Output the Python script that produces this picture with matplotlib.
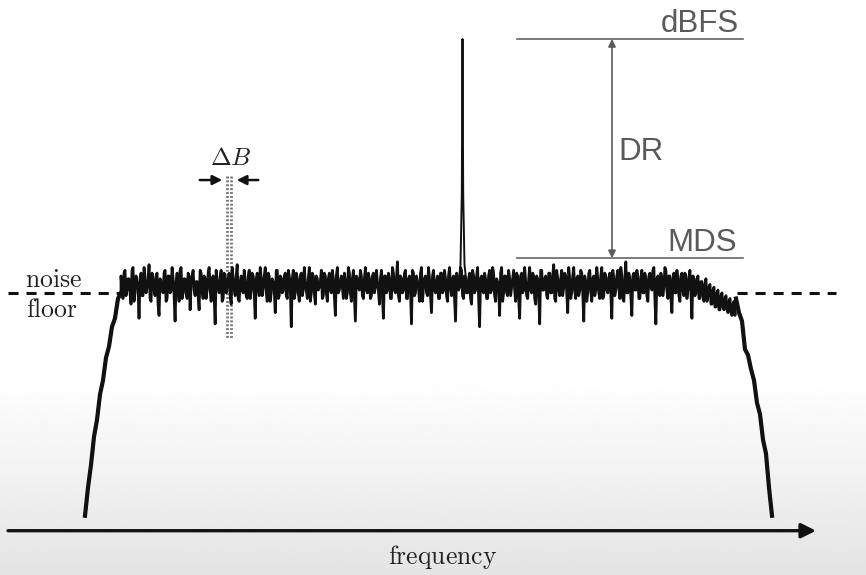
import numpy as np
import matplotlib.pyplot as plt

plt.rcParams['mathtext.fontset'] = 'cm'

# levels in dB (0 = full scale), frequency in bins
floor_db = -90
mds_db = -77.7
dbfs_db = 0

# left and right filter roll-off
left_x = [85, 88, 91, 94, 97, 100, 103, 106, 109, 112, 115, 118, 121]
left_db = [-169, -159, -151, -141, -135, -126, -121, -113, -109, -102, -99, -92, -90]
right_x = [736, 739, 742, 745, 748, 751, 754, 757, 760, 763, 766, 769, 772]
right_db = [-92, -97, -100, -110, -112, -117, -121, -129, -133, -142, -147, -159, -169]

# noise in the pass band, dB above the noise floor (even bins)
noise_dev = [
    6, -2, 8, 1, 5, -4, 9, 0, 4, -9, 7, -1, 6, 2, 10, -3, 5, -1, 7, -8,
    4, 0, 8, -2, 6, 1, 5, -10, 7, -3, 9, 0, 5, -2, 6, 3, 8, -1, 4, -6,
    7, -2, 5, 1, 9, -3, 6, -11, 4, 0, 8, -2, 6, 2, 7, -4, 5, -1, 10, -3,
    6, 0, 4, -2, 8, 1, 6, -9, 7, -1, 5, 2, 9, -3, 6, 0, 4, -7, 8, -1,
    5, 1, 7, -2, 6, -12, 8, 0, 5, -3, 7, 1, 4, -2, 9, 0, 6, -4, 5, 2,
    8, -1, 6, -3, 7, 0, 5, -8, 9, 1, 6, -2, 4, 0, 7, -3, 8, -10, 5, 1,
    6, -2, 9, 0, 5, -1, 7, 2, 4, -4, 8, -9, 6, 1, 5, -2, 7, 0, 11, -3,
    5, 1, 8, -2, 6, -11, 7, 0, 4, -3, 9, 2, 6, -1, 5, -7, 8, 0, 6, -2,
    7, 1, 5, -3, 9, -1, 6, -10, 4, 2, 8, -2, 5, 0, 7, -4, 6, 1, 9, -12,
    6, 0, 5, -2, 8, 1, 7, -3, 4, -8, 9, 0, 6, -1, 5, 2, 8, -3, 6, -9,
    7, 1, 4, -2, 9, 0, 6, -4, 5, -11, 8, 1, 6, -2, 7, 0, 10, -3, 5, -1,
    8, 2, 6, -7, 5, 0, 9, -2, 6, 1, 7, -10, 4, 0, 8, -3, 6, 1, 5, -2,
    9, -1, 6, 0, 7, -9, 5, 1, 8, -2, 6, -3, 11, 0, 5, -8, 7, 1, 6, -2,
    8, 0, 5, -3, 7, 1, 9, -11, 6, -1, 5, 2, 8, -2, 6, -7, 7, 0, 5, -3,
    7, -1, 6, 1, 8, -9, 5, 0, 6, -2, 4, -3, 5, -1, 3, -4, 2, -5, 1, -6,
    0, -6, -1, -7, -2, -8, -3,
]
# odd bins
noise_dev_b = [
    1, 7, -1, 5, 0, 8, -3, 6, 2, 5, -1, 9, 0, 4, -2, 7, 1, 6, -4, 5,
    2, 7, -3, 6, 0, 9, -1, 4, 1, 8, -2, 5, 0, 7, -6, 6, 1, 4, -1, 8,
    0, 6, -2, 7, 1, 5, -1, 8, 2, 6, -3, 7, 0, 5, -1, 9, 1, 6, -2, 4,
    1, 8, -1, 6, -2, 7, 0, 5, 2, 9, -1, 6, 0, 7, -3, 5, 1, 8, -2, 6,
    0, 6, -1, 8, 2, 5, -2, 7, 0, 6, -1, 9, 1, 5, -3, 7, 0, 6, 1, 4,
    -2, 7, 0, 5, 1, 8, -1, 6, 0, 4, 2, 7, -2, 9, 0, 5, -1, 6, 2, 8,
    -1, 5, 1, 7, -2, 6, 0, 8, 1, 5, -1, 6, 0, 7, -2, 9, 1, 5, -1, 6,
    0, 7, -2, 5, 1, 8, -1, 6, 2, 7, -3, 5, 0, 9, -1, 6, 1, 4, -2, 7,
    0, 8, -1, 6, 2, 5, -2, 7, 1, 9, -1, 6, 0, 5, -2, 8, 0, 6, -1, 5,
    1, 7, -2, 6, 0, 9, -1, 5, 2, 7, -3, 6, 0, 8, -1, 5, 1, 7, -2, 6,
    0, 9, -1, 5, 1, 7, -2, 6, 0, 8, 1, 5, -1, 7, 0, 6, -2, 8, 1, 5,
    -1, 7, 0, 9, -2, 6, 1, 5, -1, 8, 0, 6, -3, 7, 1, 5, -1, 9, 0, 6,
    -2, 7, 1, 5, 0, 8, -1, 6, 2, 9, -2, 5, 0, 7, -1, 6, 1, 8, -2, 5,
    0, 7, -1, 6, 2, 8, -2, 5, 0, 7, -1, 9, 1, 6, -2, 5, 0, 8, -1, 6,
    1, 7, -2, 5, 0, 6, -1, 5, -2, 4, -1, 3, -3, 2, -4, 1, -5, 0, -6, -1,
    -5, -2, -6, -3, -7, -4, -8,
]
noise_start, noise_end = 121, 734

# the carrier
peak_x = [458, 460.5, 461.8, 462.5, 463.2, 464.5, 467]
peak_db = [-88, -80, -55, 0, -55, -80, -88]

fig = plt.figure(figsize=(8.66, 5.75), dpi=100)
ax = fig.add_axes([0, 0, 1, 1])
ax.set_xlim(0, 866)
ax.set_ylim(-190, 13.82)
ax.axis('off')

# light grey fade towards the bottom
g = np.concatenate([np.ones(130), np.linspace(1.0, 0.895, 70)])
ax.imshow(g[:, None], cmap='gray', vmin=0, vmax=1, aspect='auto',
          extent=(0, 866, -190, 13.82), origin='upper', zorder=0)

ink = '#111111'
grey = '#5a5a5a'

# interleave the two halves of the noise record
nx_a = np.linspace(noise_start, noise_end, len(noise_dev))
nx_b = nx_a + (nx_a[1] - nx_a[0]) / 2
nx = np.empty(2 * len(nx_a))
ny = np.empty(2 * len(nx_a))
nx[0::2], nx[1::2] = nx_a, nx_b
ny[0::2] = floor_db + np.array(noise_dev)
ny[1::2] = floor_db + np.array(noise_dev_b)
sx = left_x + list(nx) + right_x
sy = left_db + list(ny) + right_db
ax.plot(sx, sy, color=ink, lw=2.0, zorder=3)
ax.plot(left_x, left_db, color=ink, lw=3.0, zorder=3)
ax.plot(right_x, right_db, color=ink, lw=3.0, zorder=3)
ax.plot(peak_x, peak_db, color=ink, lw=1.4, zorder=4)

# noise floor
ax.plot([8, 121], [floor_db, floor_db], color=ink, lw=2.2, ls=(0, (3.3, 2.6)), zorder=2)
ax.plot([737, 836], [floor_db, floor_db], color=ink, lw=2.2, ls=(0, (3.3, 2.6)), zorder=2)
ax.text(25, -87.9, r'$\mathrm{noise}$', fontsize=18.5, color='#222222', ha='left', va='baseline')
ax.text(26, -98.6, r'$\mathrm{floor}$', fontsize=18.5, color='#222222', ha='left', va='baseline')

# resolution bandwidth marker
for bx in [227, 231]:
    ax.plot([bx, bx], [-48.5, -106.5], color='#777777', lw=2.0, ls=(0, (0.7, 0.7)), zorder=1)
ax.annotate('', xy=(225, -50), xytext=(197, -50),
            arrowprops=dict(arrowstyle='-|>', color=ink, lw=1.8, mutation_scale=14))
ax.annotate('', xy=(234, -50), xytext=(261, -50),
            arrowprops=dict(arrowstyle='-|>', color=ink, lw=1.8, mutation_scale=14))
ax.text(231, -44.6, r'$\Delta B$', fontsize=18, color='#222222', ha='center', va='baseline')

# dynamic range
ax.plot([517, 743], [dbfs_db, dbfs_db], color='#666666', lw=1.2, zorder=2)
ax.plot([517, 743], [mds_db, mds_db], color='#666666', lw=1.2, zorder=2)
ax.annotate('', xy=(612, dbfs_db), xytext=(612, mds_db),
            arrowprops=dict(arrowstyle='<|-|>', color=grey, lw=1.2, mutation_scale=11,
                            shrinkA=0, shrinkB=0))
ax.text(739, 2.4, 'dBFS', fontsize=22.5, color=grey, ha='right', va='baseline',
        family='Liberation Sans')
ax.text(618, -43.0, 'DR', fontsize=22.5, color=grey, ha='left', va='baseline',
        family='Liberation Sans')
ax.text(737, -75.1, 'MDS', fontsize=22.5, color=grey, ha='right', va='baseline',
        family='Liberation Sans')

# frequency axis
ax.annotate('', xy=(816, -174.3), xytext=(8, -174.3),
            arrowprops=dict(arrowstyle='-|>', color=ink, lw=2.4, mutation_scale=22,
                            shrinkA=0, shrinkB=0))
ax.text(443, -186.2, r'$\mathrm{frequency}$', fontsize=18.5, color='#222222',
        ha='center', va='baseline')

fig.savefig('out.png', dpi=100)
